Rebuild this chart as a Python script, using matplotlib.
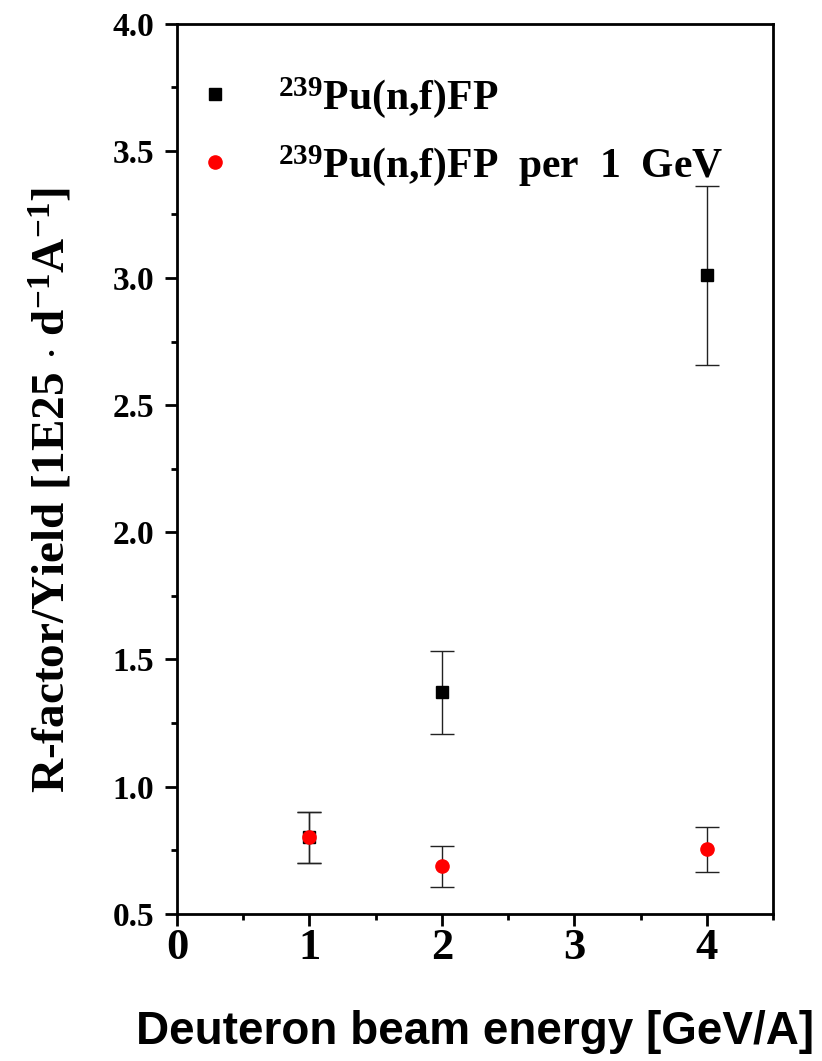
import matplotlib
matplotlib.use('Agg')
import matplotlib.pyplot as plt
from matplotlib.ticker import MultipleLocator, FormatStrFormatter

# DATA
energy = [1, 2, 4]
pu_fp = [0.80, 1.37, 3.01]
pu_fp_err = [0.10, 0.165, 0.353]
pu_fp_per_gev = [0.80, 0.686, 0.753]
pu_fp_per_gev_err = [0.10, 0.081, 0.088]
labels = [r'$^{239}$Pu(n,f)FP', r'$^{239}$Pu(n,f)FP  per  1  GeV']

# FONTS
plt.rcParams['font.family'] = ['Liberation Serif', 'DejaVu Serif']
plt.rcParams['font.weight'] = 'bold'
plt.rcParams['mathtext.fontset'] = 'custom'
plt.rcParams['mathtext.rm'] = 'Liberation Serif:bold'
plt.rcParams['mathtext.bf'] = 'Liberation Serif:bold'
plt.rcParams['mathtext.default'] = 'rm'

fig = plt.figure(figsize=(8.22, 10.61), dpi=100)
ax = fig.add_axes([0.2153, 0.1388, 0.7251, 0.8389])

# black squares first, red circles on top
eb1 = ax.errorbar(energy, pu_fp, yerr=pu_fp_err, fmt='s', color='black', ms=8.6,
                  ecolor='#222222', elinewidth=1.0, capsize=8.5, capthick=1.0,
                  zorder=3)
eb2 = ax.errorbar(energy, pu_fp_per_gev, yerr=pu_fp_per_gev_err, fmt='o',
                  color='red', ms=9.5, ecolor='#222222', elinewidth=1.0,
                  capsize=8.5, capthick=1.0, zorder=4)

ax.set_xlim(0, 4.5)
ax.set_ylim(0.5, 4.0)
ax.xaxis.set_major_locator(MultipleLocator(1))
ax.xaxis.set_minor_locator(MultipleLocator(0.5))
ax.yaxis.set_major_locator(MultipleLocator(0.5))
ax.yaxis.set_minor_locator(MultipleLocator(0.25))
ax.yaxis.set_major_formatter(FormatStrFormatter('%.1f'))

for s in ax.spines.values():
    s.set_linewidth(2)
ax.tick_params(which='both', direction='out', width=2, top=False, right=False)
ax.tick_params(which='major', length=8.5)
ax.tick_params(which='minor', length=4.5)
ax.tick_params(axis='x', which='major', labelsize=32, pad=2)
ax.tick_params(axis='y', which='major', labelsize=24, pad=8)

ax.set_xlabel('Deuteron beam energy [GeV/A]', fontsize=33, fontweight='bold',
              family=['Liberation Sans', 'DejaVu Sans'], labelpad=30)
ax.set_ylabel(r'R-factor/Yield [1E25 $\cdot$ d$^{-1}$A$^{-1}$]', fontsize=34,
              fontweight='bold')
ax.yaxis.set_label_coords(-0.17, 0.476)

# legend shows only the markers
ax.legend([eb1[0], eb2[0]], labels, loc='upper left',
          bbox_to_anchor=(-0.013, 0.975), frameon=False, fontsize=30,
          handlelength=0.8, handletextpad=1.1, labelspacing=0.55,
          borderaxespad=0.3, numpoints=1)

fig.savefig('out.png', dpi=100)
